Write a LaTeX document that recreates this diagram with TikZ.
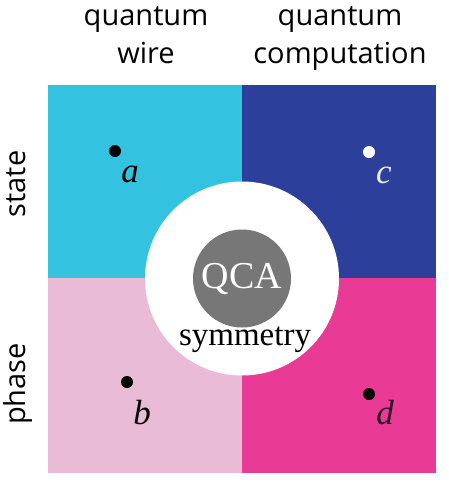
\documentclass[tikz,border=0pt]{standalone}
\usepackage{fontspec}
\setmainfont{Liberation Serif}
\newfontfamily\qsans{Open Sans}
\usetikzlibrary{positioning}
\definecolor{qcyan}{HTML}{33C3E0}
\definecolor{qnavy}{HTML}{2C409B}
\definecolor{qrose}{HTML}{E9BBD6}
\definecolor{qmagenta}{HTML}{E93A96}
\definecolor{qgray}{HTML}{777777}
\definecolor{qpale}{HTML}{ECECF6}
\definecolor{qdark}{HTML}{2A1424}
\tikzstyle{qquad}=[draw=none,inner sep=0pt,minimum width=194pt]
\tikzstyle{qhead}=[font=\qsans\fontsize{29}{38}\selectfont,align=center,inner sep=0pt,anchor=base]
\tikzstyle{qside}=[font=\qsans\fontsize{29}{38}\selectfont,rotate=90,inner sep=0pt,anchor=base]
\tikzstyle{qdot}=[circle,fill=black,inner sep=0pt,minimum size=12pt]
\tikzstyle{qletter}=[font=\fontsize{35}{40}\selectfont\itshape,inner sep=0pt,anchor=base]

\begin{document}
\begin{tikzpicture}[x=1pt,y=-1pt]
    \useasboundingbox (0,0) rectangle (449,485);
    % ---- four quadrants ----
    \node[qquad,fill=qcyan,minimum height=193pt]    (wire)  at (145,181.5) {};
    \node[qquad,fill=qnavy,minimum height=193pt]    (comp)  at (339,181.5) {};
    \node[qquad,fill=qrose,minimum height=195pt]    (phw)   at (145,375.5) {};
    \node[qquad,fill=qmagenta,minimum height=195pt] (phc)   at (339,375.5) {};

    % ---- centre ----
    \node[circle,fill=white,inner sep=0pt,minimum size=194pt] (ring) at (242,278.5) {};
    \node[circle,fill=qgray,text=white,inner sep=0pt,minimum size=98pt,
          font=\fontsize{38}{40}\selectfont] (qca) at (242,278.5) {QCA};
    \node[font=\fontsize{33}{36}\selectfont,inner sep=0pt,anchor=base] (sym) at (245,345) {symmetry};

    % ---- headings ----
    \node[qhead] (hwire) at (146,63) {quantum\\wire};
    \node[qhead] (hcomp) at (340,63) {quantum\\computation};
    \node[qside] (hstate) at (25,184) {state};
    \node[qside] (hphase) at (25,384) {phase};

    % ---- points ----
    \node[qdot] (pa) at (115,151) {};
    \node[qdot] (pb) at (127,382) {};
    \node[qdot,fill=white] (pc) at (369,152) {};
    \node[qdot] (pd) at (369,394) {};
    \node[qletter] (la) at (130,182) {a};
    \node[qletter] (lb) at (142,424) {b};
    \node[qletter,text=qpale] (lc) at (384,183) {c};
    \node[qletter,text=qdark] (ld) at (385,424) {d};
  \end{tikzpicture}
\end{document}
